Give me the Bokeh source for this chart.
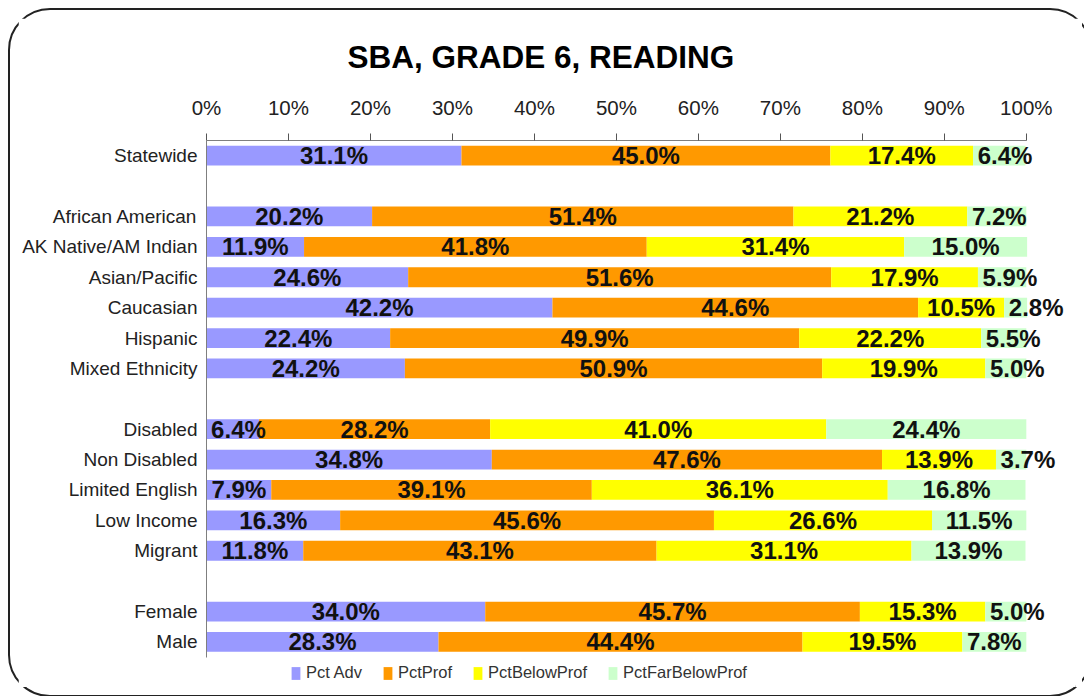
from bokeh.plotting import figure
from bokeh.models import (ColumnDataSource, FactorRange, Range1d, FixedTicker,
                          PrintfTickFormatter, Legend, LegendItem)
from bokeh.core.properties import value
from bokeh.embed import file_html
from bokeh.resources import INLINE

chart_title = "SBA, GRADE 6, READING"
categories = ["Statewide", "African American", "AK Native/AM Indian", "Asian/Pacific",
              "Caucasian", "Hispanic", "Mixed Ethnicity", "Disabled", "Non Disabled",
              "Limited English", "Low Income", "Migrant", "Female", "Male"]
group_ends = ["Statewide", "Mixed Ethnicity", "Migrant"]  # a blank row follows these
series_names = ["Pct Adv", "PctProf", "PctBelowProf", "PctFarBelowProf"]
pct_adv = [31.1, 20.2, 11.9, 24.6, 42.2, 22.4, 24.2, 6.4, 34.8, 7.9, 16.3, 11.8, 34.0, 28.3]
pct_prof = [45.0, 51.4, 41.8, 51.6, 44.6, 49.9, 50.9, 28.2, 47.6, 39.1, 45.6, 43.1, 45.7, 44.4]
pct_below_prof = [17.4, 21.2, 31.4, 17.9, 10.5, 22.2, 19.9, 41.0, 13.9, 36.1, 26.6, 31.1, 15.3, 19.5]
pct_far_below_prof = [6.4, 7.2, 15.0, 5.9, 2.8, 5.5, 5.0, 24.4, 3.7, 16.8, 11.5, 13.9, 5.0, 7.8]
colors = ["#9999FF", "#FF9900", "#FFFF00", "#CCFFCC"]
x_ticks = [0, 10, 20, 30, 40, 50, 60, 70, 80, 90, 100]

FONT = "Liberation Sans"

# factor list with blank spacer rows between groups (top to bottom),
# plus one blank row at the bottom that holds the legend
factors = []
n_sp = 0
for c in categories:
    factors.append(c)
    if c in group_ends:
        n_sp += 1
        factors.append(" " * n_sp)
factors.append(" " * (n_sp + 1))
factors = factors[::-1]

keys = ["adv", "prof", "below", "far"]
series = [pct_adv, pct_prof, pct_below_prof, pct_far_below_prof]
src = ColumnDataSource(data=dict(cat=categories, **{k: s for k, s in zip(keys, series)}))

p = figure(width=1064, height=669, y_range=FactorRange(factors=factors),
           x_range=Range1d(0, 106), x_axis_location="above",
           output_backend="svg", toolbar_location=None,
           min_border_left=188, min_border_right=7, min_border_top=121, min_border_bottom=0)
p.y_range.range_padding = 0
p.y_range.factor_padding = 0
# rounded frame round the whole chart (drawn as an outline, so it adds no size)
p.styles = {"margin": "18px 0 0 18px", "outline": "2px solid #222222",
            "outline-offset": "8px", "border-radius": "32px"}
p.background_fill_color = "white"
p.border_fill_color = "white"
p.outline_line_color = None
p.xgrid.visible = False
p.ygrid.visible = False

renderers = p.hbar_stack(keys, y="cat", height=0.65, color=colors, line_color=None, source=src)

# value labels
lx, ly, lt = [], [], []
for i, c in enumerate(categories):
    left = 0.0
    for s in series:
        v = s[i]
        lx.append(max(left + v / 2.0, left + 3.9))
        ly.append(c)
        lt.append(f"{v:.1f}%")
        left += v
p.text(x=lx, y=ly, text=lt, text_align="center", text_baseline="middle",
       text_font=value(FONT), text_font_style="bold", text_font_size="24px", text_color="#111111")

# axes
xa = p.xaxis[0]
xa.ticker = FixedTicker(ticks=x_ticks)
xa.formatter = PrintfTickFormatter(format="%d%%")
xa.bounds = (0, 100)
xa.major_tick_out = 7
xa.major_tick_in = 0
xa.minor_tick_line_color = None
xa.axis_line_color = "#7f7f7f"
xa.major_tick_line_color = "#555555"
xa.major_label_text_font = FONT
xa.major_label_text_font_size = "20.5px"
xa.major_label_text_color = "#222222"
xa.major_label_standoff = 15

ya = p.yaxis[0]
ya.bounds = (1, len(factors))
ya.major_tick_line_color = None
ya.major_tick_out = 0
ya.major_tick_in = 0
ya.minor_tick_line_color = None
ya.axis_line_color = "#7f7f7f"
ya.major_label_text_font = FONT
ya.major_label_text_font_size = "19px"
ya.major_label_text_color = "#222222"
ya.major_label_standoff = 9

# title
p.title.text = chart_title
p.title.text_font = FONT
p.title.text_font_style = "bold"
p.title.text_font_size = "31.5px"
p.title.text_color = "#000000"
p.title.align = "left"
p.title.offset = 141
p.title.standoff = 36

# legend (in the bottom blank row)
items = [LegendItem(label=n, renderers=[r]) for n, r in zip(series_names, renderers)]
legend = Legend(items=items, orientation="horizontal", location=(84, 5),
                glyph_width=11, glyph_height=16, label_standoff=5, spacing=20,
                label_text_font=FONT, label_text_font_size="16.5px", label_text_color="#333333",
                background_fill_alpha=0, border_line_color=None, padding=0, margin=0)
p.add_layout(legend)

open("out.html", "w").write(file_html(p, INLINE))
